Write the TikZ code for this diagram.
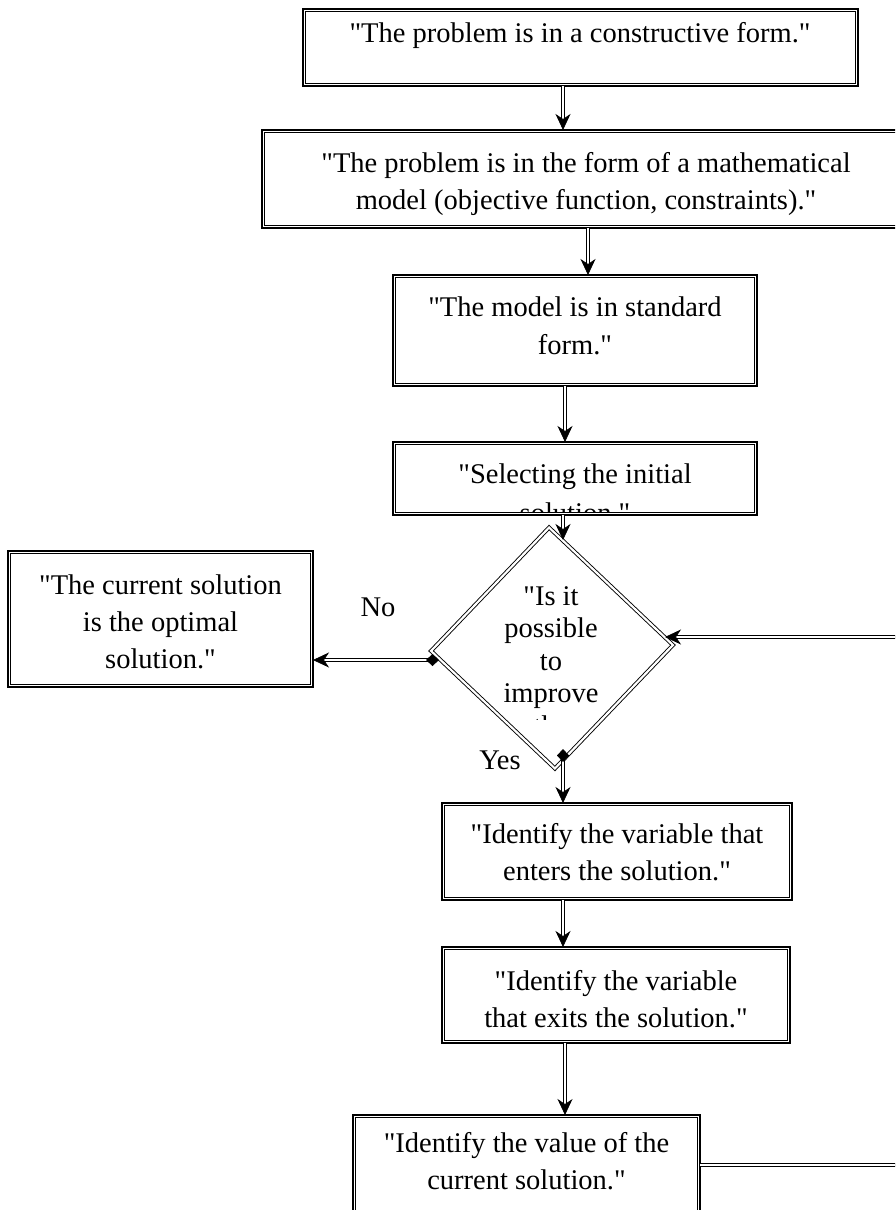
\documentclass[tikz,border=0pt]{standalone}
\usepackage{fontspec}
\setmainfont{Liberation Serif}[Ligatures=TeXOff]
\usetikzlibrary{arrows.meta,shapes.geometric}
\begin{document}
\begin{tikzpicture}[x=1pt,y=-1pt,
  box/.style={draw, line width=1.7pt, inner sep=0pt, outer sep=0pt,
    path picture={\draw[line width=0.9pt]
      ([shift={(2.9pt,-2.9pt)}]path picture bounding box.north west) rectangle
      ([shift={(-2.9pt,2.9pt)}]path picture bounding box.south east);}},
  dmd/.style={shape=diamond, draw, double, line width=0.9pt, double distance=2.2pt,
    minimum width=242pt, minimum height=241pt, inner sep=0pt, outer sep=0pt, rotate=1.4},
  txt/.style={font=\fontsize{28.5pt}{37pt}\selectfont, anchor=base, inner sep=0pt},
  tip/.style={-{Stealth[length=16pt,width=15pt,inset=5pt]}},
  conn/.style={draw, double, line width=0.75pt, double distance=2pt, tip},
  dmdstart/.style={{Diamond[length=13pt,width=12pt]}-{Stealth[length=16pt,width=15pt,inset=5pt]}}
]
\useasboundingbox (0,0) rectangle (895,1210);
\fill[white] (0,0) rectangle (895,1210);
\clip (0,0) rectangle (895,1210);

% boxes
\node[box, minimum width=555pt, minimum height=77pt]  (b1) at (580.5,47.5) {};
\node[box, minimum width=650pt, minimum height=98pt]  (b2) at (587,179) {};
\node[box, minimum width=364pt, minimum height=111pt] (b3) at (575,330.5) {};
\node[box, minimum width=364pt, minimum height=73pt]  (b4) at (575,478.5) {};
\node[box, minimum width=305pt, minimum height=136pt] (lb) at (160.5,619) {};
\node[box, minimum width=350pt, minimum height=97pt]  (b5) at (617,851.5) {};
\node[box, minimum width=348pt, minimum height=96pt]  (b6) at (616,995) {};
\node[box, minimum width=347pt, minimum height=100pt] (b7) at (526.5,1165) {};
\node[dmd] (d) at (552,648) {};

% texts
\node[txt] (t1) at (580,42) {"The problem is in a constructive form."};
\node[txt] (t2a) at (586,172) {"The problem is in the form of a mathematical};
\node[txt] (t2b) at (586,209) {model (objective function, constraints)."};
\node[txt] (t3a) at (575,316) {"The model is in standard};
\node[txt] (t3b) at (575,354) {form."};
\begin{scope}
  \clip (397,446) rectangle (753,511);
  \node[txt] (t4a) at (575,483) {"Selecting the initial};
  \node[txt] (t4b) at (575,522) {solution."};
\end{scope}
\begin{scope}
  \clip (470,570) rectangle (635,719);
  \node[txt] (tda) at (551,605) {"Is it};
  \node[txt] (tdb) at (551,637) {possible};
  \node[txt] (tdc) at (551,670) {to};
  \node[txt] (tdd) at (551,702) {improve};
  \node[txt] (tde) at (551,735) {the};
\end{scope}
\node[txt] (tla) at (160.5,594) {"The current solution};
\node[txt] (tlb) at (160.5,631) {is the optimal};
\node[txt] (tlc) at (160.5,668) {solution."};
\node[txt] (t5a) at (617,843) {"Identify the variable that};
\node[txt] (t5b) at (617,880) {enters the solution."};
\node[txt] (t6a) at (616,990) {"Identify the variable};
\node[txt] (t6b) at (616,1027) {that exits the solution."};
\node[txt] (t7a) at (526.5,1152) {"Identify the value of the};
\node[txt] (t7b) at (526.5,1189) {current solution."};
\node[txt, anchor=center] (lno) at (378,607) {No};
\node[txt, anchor=center] (lyes) at (500,760) {Yes};

% connectors
\coordinate (a4e) at (563,540);
\coordinate (noS) at (439,660);
\coordinate (yesS) at (563,749);
\coordinate (fbE) at (665,637);
\coordinate (fbA) at (920,1165);
\coordinate (fbB) at (920,637);

\draw[conn] ([xshift=-17.5pt]b1.south) -- ([xshift=-17.5pt]b1.south |- b2.north);
\draw[conn] ([xshift=1pt]b2.south) -- ([xshift=1pt]b2.south |- b3.north);
\draw[conn] ([xshift=-10pt]b3.south) -- ([xshift=-10pt]b3.south |- b4.north);
\draw[conn] ([xshift=-12pt]b4.south) -- (a4e);
\draw[conn, dmdstart] (noS) -- (noS -| lb.east);
\draw[conn, dmdstart] (yesS) -- (yesS |- b5.north);
\draw[conn] ([xshift=-54pt]b5.south) -- ([xshift=-54pt]b5.south |- b6.north);
\draw[conn] ([xshift=-51pt]b6.south) -- ([xshift=-51pt]b6.south |- b7.north);
\draw[conn] (b7.east) -- (fbA) -- (fbB) -- (fbE);
\end{tikzpicture}
\end{document}
